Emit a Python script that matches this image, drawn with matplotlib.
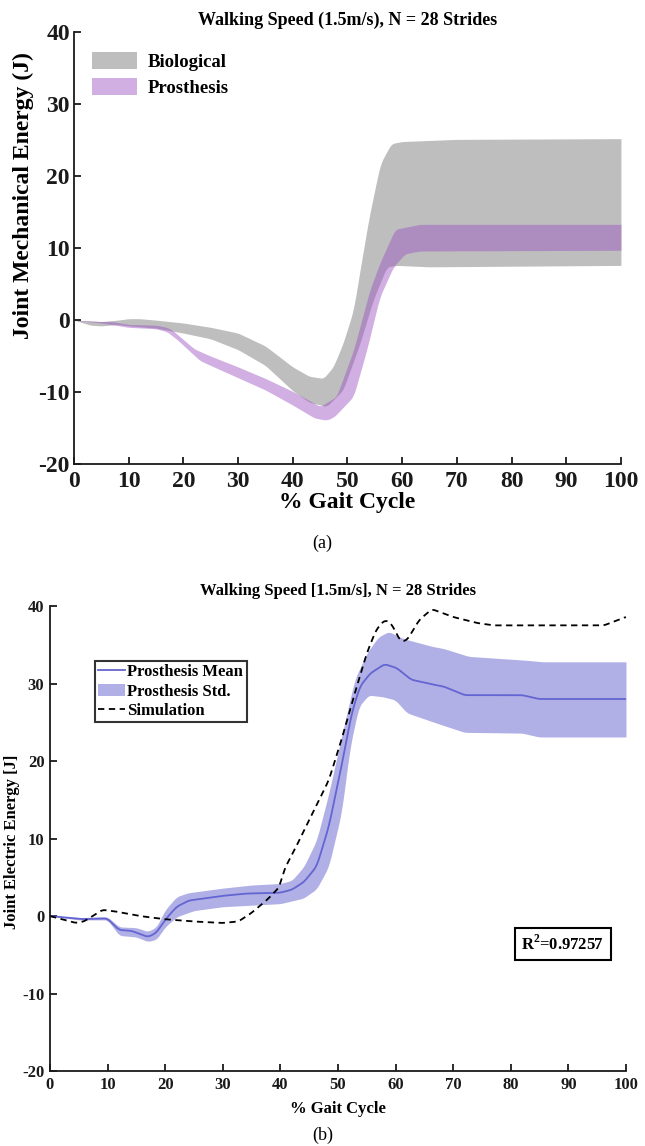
import matplotlib
matplotlib.use("Agg")
import numpy as np
import matplotlib.pyplot as plt
from matplotlib.patches import Patch

plt.rcParams['font.family'] = ['Liberation Serif', 'DejaVu Serif']
plt.rcParams['font.weight'] = 'bold'
plt.rcParams['axes.unicode_minus'] = False
plt.rcParams['mathtext.fontset'] = 'custom'
plt.rcParams['mathtext.rm'] = 'Liberation Serif:bold'
plt.rcParams['mathtext.bf'] = 'Liberation Serif:bold'

# ==================== Panel (a): mechanical energy bands ====================

bio_upper_x = [0, 5, 8, 10, 12, 15, 20, 25, 30, 35, 40, 43, 45.6, 47.4, 49.2, 51.1, 52.6, 54, 56, 58, 60, 70, 100]
bio_upper_y = [0, -0.2, 0, 0.2, 0.2, 0, -0.4, -1.0, -1.8, -3.6, -6.5, -7.8, -8.1, -6.5, -3.2, 1.4, 8.3, 14.5, 21.7, 24.5, 24.8, 25.1, 25.2]
bio_lower_x = [0, 3, 5, 8, 10, 15, 20, 25, 30, 35, 40, 43, 46.2, 49.2, 52.3, 54.7, 57.2, 59, 65, 100]
bio_lower_y = [0, -0.7, -0.8, -0.6, -0.8, -1.1, -1.8, -2.6, -4.1, -6.3, -9.8, -11.4, -12.0, -9.7, -3.2, 2.8, 7.4, 7.6, 7.4, 7.6]

pro_upper_x = [0, 5, 7, 10, 15, 17, 18, 20, 22, 25, 30, 35, 40, 45, 48, 51.1, 54.1, 55.9, 58.7, 63.2, 100]
pro_upper_y = [0, -0.2, -0.2, -0.6, -0.7, -1.0, -1.4, -2.7, -4.0, -5.0, -6.5, -8.1, -9.9, -12.0, -10.6, -4.2, 4.2, 7.9, 12.6, 13.3, 13.3]
pro_lower_x = [0, 5, 10, 15, 17, 19, 21, 23, 25, 30, 35, 40, 44, 46.2, 47.6, 51.1, 53.5, 55.9, 58.4, 60.5, 63.2, 100]
pro_lower_y = [0, -0.4, -1.0, -1.2, -1.6, -2.8, -4.2, -5.6, -6.3, -8.0, -9.7, -11.8, -13.6, -13.9, -13.4, -10.6, -4.2, 3.2, 7.4, 9.2, 9.6, 9.7]

# ==================== Panel (b): electric energy ====================

mean_x = [0, 5.6, 9.9, 12, 14.1, 17.0, 18.4, 20.2, 22, 24.1, 29.9, 34.1, 39.9, 42, 44.1, 46.3, 48.4, 50.6,
          52.4, 53.8, 55.6, 58.1, 60.2, 62.7, 66.3, 68.4, 72, 82, 84.9, 100]
mean_y = [0, -0.4, -0.3, -1.8, -1.9, -2.7, -2.2, -0.3, 1.2, 2.0, 2.6, 2.9, 3.0, 3.4, 4.4, 6.4, 11.5, 19.3,
          26.2, 29.6, 31.3, 32.5, 32.0, 30.5, 29.9, 29.6, 28.5, 28.5, 28.0, 28.0]

std_upper_x = [0, 5, 10, 12, 15, 17, 18.5, 20, 22, 24, 30, 35, 40, 42, 44.1, 46.3, 48.4, 50.6, 52.9, 55,
               57, 58.8, 61.3, 66.3, 68.4, 72.7, 82.7, 85.6, 100]
std_upper_y = [0, -0.2, -0.1, -1.4, -1.5, -2.0, -1.4, 0.8, 2.5, 3.0, 3.6, 4.0, 4.2, 4.6, 6.4, 9.8, 15.8, 23.1, 30.5, 33.9,
               36.0, 36.7, 35.8, 34.8, 34.5, 33.5, 33.0, 32.8, 32.8]
std_lower_x = [0, 5, 10, 12, 15, 17, 18.5, 20, 22, 25, 30, 40, 44, 46.3, 48.4, 50.6, 52.1, 53.6, 55.3,
               57.7, 59.9, 62, 66.3, 69.1, 72, 82, 84.9, 100]
std_lower_y = [0, -0.5, -0.5, -2.5, -2.7, -3.3, -3.0, -1.4, -0.1, 0.7, 1.2, 1.6, 2.3, 3.5, 6.4, 13.3, 21.8, 27.0, 28.5,
               28.3, 27.9, 26.2, 25.1, 24.4, 23.7, 23.6, 23.1, 23.1]

sim_x = [0, 4.5, 5.9, 9.1, 11.3, 15.6, 19.8, 24.9, 29.9, 32.7, 34.8, 37.7, 39.9, 40.6, 42.7, 45.6, 48.4, 50.6,
         52.9, 55, 56.6, 58.1, 59.2, 60.9, 62, 64.1, 66.3, 69.9, 74.2, 77, 82.3, 96.2, 100]
sim_y = [0, -0.9, -0.7, 0.8, 0.6, 0, -0.4, -0.7, -0.9, -0.7, 0.3, 2.1, 3.8, 5.9, 8.9, 13.3, 17.5, 22.7,
         28.7, 33.9, 36.9, 38.2, 37.8, 35.4, 35.6, 38.2, 39.6, 38.6, 37.8, 37.5, 37.5, 37.5, 38.6]

r_squared = 0.97257

BIO_GRAY = '#BEBEBE'
PRO_PURPLE = '#9B51C2'
STD_BLUE = '#B0B0E6'
MEAN_BLUE = '#6464D2'
INK = '#1a1a1a'

GRID = np.linspace(0, 100, 1001)


def curve(xs, ys, width=1.2):
    """Resample the read-off points on GRID and round off the corners a little."""
    y = np.interp(GRID, xs, ys)
    n = int(width / (GRID[1] - GRID[0])) | 1
    pad = n // 2
    yp = np.concatenate([np.full(pad, y[0]), y, np.full(pad, y[-1])])
    return np.convolve(yp, np.ones(n) / n, mode='valid')


def style_axes(ax, lw):
    for side in ('top', 'right'):
        ax.spines[side].set_visible(False)
    for side in ('left', 'bottom'):
        ax.spines[side].set_linewidth(lw)
        ax.spines[side].set_color(INK)
    ax.tick_params(direction='in', width=lw, colors=INK)


fig = plt.figure(figsize=(6.45, 11.46), dpi=100)

# ---- (a)
ax1 = fig.add_axes([0.1147, 0.595, 0.848, 0.377])
ax1.fill_between(GRID, curve(bio_lower_x, bio_lower_y), curve(bio_upper_x, bio_upper_y),
                 color=BIO_GRAY, lw=0)
ax1.fill_between(GRID, curve(pro_lower_x, pro_lower_y), curve(pro_upper_x, pro_upper_y),
                 color=PRO_PURPLE, alpha=0.46, lw=0)
ax1.set_xlim(0, 100)
ax1.set_ylim(-20, 40)
ax1.set_xticks(range(0, 101, 10))
ax1.set_yticks(range(-20, 41, 10))
style_axes(ax1, 1.3)
ax1.tick_params(labelsize=17, length=5)
ax1.tick_params(axis='x', pad=5)
ax1.tick_params(axis='y', pad=3)
ax1.set_xlabel('% Gait Cycle', fontsize=17, fontweight='bold', labelpad=0)
ax1.set_ylabel('Joint Mechanical Energy (J)', fontsize=17, fontweight='bold')
ax1.yaxis.set_label_coords(-0.073, 0.621)
ax1.set_title('Walking Speed (1.5m/s), N = 28 Strides', fontsize=13, fontweight='bold', pad=5)
handles = [Patch(facecolor=BIO_GRAY, edgecolor='none', label='Biological'),
           Patch(facecolor=PRO_PURPLE, alpha=0.46, edgecolor='none', label='Prosthesis')]
ax1.legend(handles=handles, loc='upper left', bbox_to_anchor=(0.033, 0.953), frameon=False,
           prop={'size': 13.5, 'weight': 'bold'}, handlelength=2.4, handleheight=0.96,
           labelspacing=0.39, handletextpad=0.55, borderpad=0, borderaxespad=0)
fig.text(0.5, 0.526, '(a)', fontsize=13, fontweight='normal', ha='center', va='center')

# ---- (b)
ax2 = fig.add_axes([0.0775, 0.0654, 0.893, 0.4058])
ax2.fill_between(GRID, curve(std_lower_x, std_lower_y), curve(std_upper_x, std_upper_y),
                 color=STD_BLUE, lw=0)
mean_line, = ax2.plot(GRID, curve(mean_x, mean_y), color=MEAN_BLUE, lw=1.3, label='Prosthesis Mean')
sim_line, = ax2.plot(GRID, curve(sim_x, sim_y), color='black', lw=1.3, ls=(0, (3.5, 2.5)), label='Simulation')
ax2.set_xlim(0, 100)
ax2.set_ylim(-20, 40)
ax2.set_xticks(range(0, 101, 10))
ax2.set_yticks(range(-20, 41, 10))
style_axes(ax2, 1.3)
ax2.tick_params(labelsize=12, length=5, pad=4)
ax2.set_xlabel('% Gait Cycle', fontsize=12, fontweight='bold', labelpad=6)
ax2.set_ylabel('Joint Electric Energy [J]', fontsize=12, fontweight='bold')
ax2.yaxis.set_label_coords(-0.052, 0.492)
ax2.set_title('Walking Speed [1.5m/s], N = 28 Strides', fontsize=12, fontweight='bold', pad=8)
leg = ax2.legend(handles=[mean_line, Patch(facecolor=STD_BLUE, edgecolor='none', label='Prosthesis Std.'), sim_line],
                 loc='upper left', bbox_to_anchor=(0.078, 0.882), frameon=True, fancybox=False,
                 prop={'size': 12, 'weight': 'bold'}, handlelength=1.6, labelspacing=0.2,
                 handletextpad=0.15, borderpad=0.2, borderaxespad=0)
leg.get_frame().set_edgecolor('black')
leg.get_frame().set_linewidth(1.5)
ax2.text(0.89, 0.273, 'R$^2$=%.5f' % r_squared, transform=ax2.transAxes, fontsize=12, fontweight='bold',
         ha='center', va='center',
         bbox=dict(boxstyle='square,pad=0.4', facecolor='white', edgecolor='black', linewidth=1.5))
fig.text(0.5, 0.009, '(b)', fontsize=13, fontweight='normal', ha='center', va='center')

fig.savefig('out.png', dpi=100)
